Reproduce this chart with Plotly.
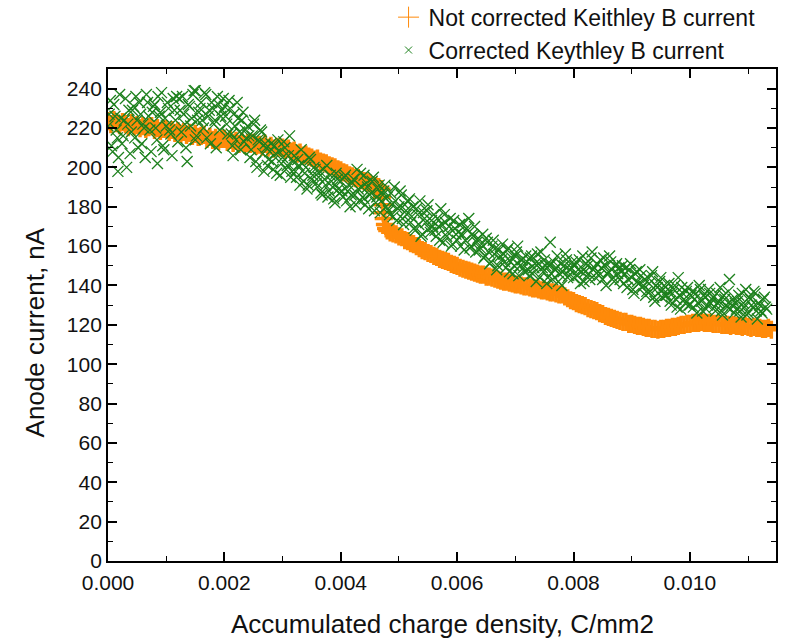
import plotly.graph_objects as go

# ---------------- data ----------------
# x values are given in units of 1e-5 C/mm2 and converted below
ORANGE_X_1E5 = [
    0, 5, 10, 15, 20, 25, 30, 35, 40, 45,
    50, 55, 60, 65, 70, 75, 80, 85, 90, 95,
    100, 105, 110, 115, 120, 125, 130, 135, 140, 145,
    150, 155, 160, 165, 170, 175, 180, 185, 190, 195,
    200, 205, 210, 215, 220, 225, 230, 235, 240, 245,
    250, 255, 260, 265, 270, 275, 280, 285, 290, 295,
    300, 305, 310, 315, 320, 325, 330, 335, 340, 345,
    350, 355, 360, 365, 370, 375, 380, 385, 390, 395,
    400, 405, 410, 415, 420, 425, 430, 435, 440, 445,
    450, 455, 460, 465, 470,
    471, 472, 473, 474, 476, 478,
    480, 485, 490, 495, 500, 505, 510, 515, 520, 525,
    530, 535, 540, 545, 550, 555, 560, 565, 570, 575,
    580, 585, 590, 595, 600, 605, 610, 615, 620, 625,
    630, 635, 640, 645, 650, 655, 660, 665, 670, 675,
    680, 685, 690, 695, 700, 705, 710, 715, 720, 725,
    730, 735, 740, 745, 750, 755, 760, 765, 770, 775,
    780, 785, 790, 795, 800, 805, 810, 815, 820, 825,
    830, 835, 840, 845, 850, 855, 860, 865, 870, 875,
    880, 885, 890, 895, 900, 905, 910, 915, 920, 925,
    930, 935, 940, 945, 950, 955, 960, 965, 970, 975,
    980, 985, 990, 995, 1000, 1005, 1010, 1015, 1020, 1025,
    1030, 1035, 1040, 1045, 1050, 1055, 1060, 1065, 1070, 1075,
    1080, 1085, 1090, 1095, 1100, 1105, 1110, 1115, 1120, 1125,
    1130, 1135, 1140,
]
ORANGE_Y = [
    223.5, 222.0, 224.0, 222.5, 221.5, 223.0, 222.0, 220.5, 222.5, 221.0,
    221.5, 220.0, 221.0, 219.5, 220.5, 221.0, 219.0, 220.0, 218.5, 219.5,
    219.5, 218.0, 219.0, 217.5, 218.5, 217.0, 218.0, 216.5, 217.5, 216.0,
    217.0, 215.5, 216.0, 216.5, 214.5, 215.5, 214.0, 215.0, 213.5, 214.5,
    214.5, 213.0, 214.0, 212.5, 213.5, 212.0, 213.0, 211.5, 212.5, 212.0,
    212.5, 211.0, 211.5, 210.5, 212.0, 210.0, 211.0, 209.5, 210.5, 210.0,
    210.0, 209.0, 209.5, 208.0, 208.5, 207.0, 207.5, 206.0, 206.5, 205.5,
    205.0, 204.0, 204.5, 203.0, 202.5, 202.0, 201.0, 200.5, 200.0, 199.0,
    198.5, 197.5, 197.0, 196.0, 195.5, 194.5, 194.5, 193.5, 193.0, 192.5,
    192.0, 191.0, 190.5, 190.0, 189.0,
    185.0, 181.0, 177.0, 174.0, 171.0, 169.0,
    168.0, 167.0, 166.5, 166.0, 165.0, 164.5, 163.0, 162.5, 161.5, 161.0,
    160.0, 159.0, 158.0, 157.5, 156.5, 156.0, 155.0, 154.5, 153.5, 153.0,
    152.5, 152.0, 151.0, 150.5, 150.0, 149.0, 148.5, 148.0, 147.5, 147.0,
    146.5, 146.0, 145.5, 145.5, 144.5, 144.5, 144.0, 143.5, 143.0, 142.5,
    142.0, 142.0, 141.5, 141.0, 140.5, 140.5, 140.0, 139.5, 139.5, 139.0,
    138.5, 138.5, 138.0, 137.5, 137.5, 137.0, 136.5, 136.5, 136.0, 135.5,
    135.5, 134.5, 133.5, 132.5, 132.0, 131.0, 130.5, 130.0, 129.5, 128.5,
    128.0, 127.5, 127.0, 126.0, 125.5, 124.5, 124.0, 123.5, 123.0, 122.5,
    122.0, 121.5, 121.5, 120.5, 120.5, 120.0, 119.5, 119.5, 119.0, 118.5,
    118.5, 118.0, 118.0, 117.5, 118.0, 118.0, 118.5, 118.5, 119.0, 119.0,
    119.5, 120.0, 120.0, 120.5, 120.5, 121.0, 121.0, 121.0, 121.5, 121.0,
    121.0, 121.0, 120.5, 120.5, 120.5, 120.0, 120.0, 120.0, 119.5, 120.0,
    119.5, 119.5, 119.0, 119.5, 119.0, 118.5, 119.0, 118.5, 118.5, 118.0,
    118.0, 118.5, 117.5,
]

GREEN_X_1E5 = [
    0, 4, 8, 12, 16, 20, 24, 28, 32, 36,
    40, 44, 48, 52, 56, 60, 64, 68, 72, 76,
    80, 84, 88, 92, 96, 100, 104, 108, 112, 116,
    120, 124, 128, 132, 136, 140, 144, 148, 152, 156,
    160, 164, 168, 172, 176, 180, 184, 188, 192, 196,
    200, 204, 208, 212, 216, 220, 224, 228, 232, 236,
    240, 244, 248, 252, 256, 260, 264, 268, 272, 276,
    280, 284, 288, 292, 296, 300, 304, 308, 312, 316,
    320, 324, 328, 332, 336, 340, 344, 348, 352, 356,
    360, 364, 368, 372, 376, 380, 384, 388, 392, 396,
    400, 404, 408, 412, 416, 420, 424, 428, 432, 436,
    440, 444, 448, 452, 456, 460, 464, 468, 472, 476,
    480, 484, 488, 492, 496, 500, 504, 508, 512, 516,
    520, 524, 528, 532, 536, 540, 544, 548, 552, 556,
    560, 564, 568, 572, 576, 580, 584, 588, 592, 596,
    600, 604, 608, 612, 616, 620, 624, 628, 632, 636,
    640, 644, 648, 652, 656, 660, 664, 668, 672, 676,
    680, 684, 688, 692, 696, 700, 704, 708, 712, 716,
    720, 724, 728, 732, 736, 740, 744, 748, 752, 756,
    760, 764, 768, 772, 776, 780, 784, 788, 792, 796,
    800, 804, 808, 812, 816, 820, 824, 828, 832, 836,
    840, 844, 848, 852, 856, 860, 864, 868, 872, 876,
    880, 884, 888, 892, 896, 900, 904, 908, 912, 916,
    920, 924, 928, 932, 936, 940, 944, 948, 952, 956,
    960, 964, 968, 972, 976, 980, 984, 988, 992, 996,
    1000, 1004, 1008, 1012, 1016, 1020, 1024, 1028, 1032, 1036,
    1040, 1044, 1048, 1052, 1056, 1060, 1064, 1068, 1072, 1076,
    1080, 1084, 1088, 1092, 1096, 1100, 1104, 1108, 1112, 1116,
    1120, 1124, 1128, 1132,
    17, 85, 150, 215, 440, 760,
]
GREEN_Y = [
    221, 234, 208, 226, 215, 237, 212, 224, 200, 229,
    218, 231, 236, 210, 227, 222, 205, 233, 219, 228,
    232, 214, 226, 238, 209, 221, 230, 217, 235, 224,
    213, 229, 236, 222, 203, 231, 225, 239, 216, 228,
    233, 220, 237, 226, 212, 230, 224, 236, 219, 229,
    231, 222, 234, 217, 227, 214, 225, 209, 228, 219,
    221, 205, 216, 224, 200, 213, 218, 198, 210, 204,
    212, 199, 207, 214, 196, 205, 210, 201, 216, 198,
    206, 195, 201, 209, 193, 200, 191, 204, 196, 199,
    190, 198, 186, 194, 201, 188, 193, 184, 197, 189,
    193, 185, 196, 188, 180, 192, 186, 199, 183, 190,
    184, 192, 179, 187, 195, 182, 189, 177, 186, 191,
    185, 176, 181, 190, 173, 180, 186, 171, 178, 183,
    172, 180, 168, 176, 183, 166, 174, 178, 169, 173,
    176, 165, 170, 179, 162, 172, 167, 174, 161, 169,
    163, 171, 166, 158, 169, 174, 160, 165, 157, 164,
    159, 166, 155, 162, 151, 160, 156, 148, 158, 153,
    156, 149, 159, 152, 146, 155, 160, 150, 153, 147,
    152, 145, 155, 149, 142, 151, 157, 147, 150, 144,
    151, 143, 148, 155, 146, 140, 150, 153, 145, 149,
    144, 152, 148, 141, 155, 147, 150, 143, 157, 149,
    151, 145, 149, 154, 140, 147, 152, 144, 150, 146,
    143, 150, 146, 139, 148, 144, 136, 147, 141, 145,
    140, 135, 144, 137, 147, 132, 139, 142, 134, 140,
    135, 141, 130, 138, 133, 144, 128, 136, 131, 139,
    130, 137, 133, 126, 140, 132, 135, 128, 138, 131,
    134, 127, 131, 139, 125, 133, 129, 143, 130, 126,
    128, 135, 124, 131, 138, 126, 133, 129, 136, 123,
    130, 126, 134, 128,
    198, 202, 239, 206, 196, 162,
]

# second pass of the corrected-current readings (interleaved samples)
GREEN_X_1E5_B = [
    2, 6, 10, 14, 18, 22, 26, 30, 34, 38,
    42, 46, 50, 54, 58, 62, 66, 70, 74, 78,
    82, 86, 90, 94, 98, 102, 106, 110, 114, 118,
    122, 126, 130, 134, 138, 142, 146, 150, 154, 158,
    162, 166, 170, 174, 178, 182, 186, 190, 194, 198,
    202, 206, 210, 214, 218, 222, 226, 230, 234, 238,
    242, 246, 250, 254, 258, 262, 266, 270, 274, 278,
    282, 286, 290, 294, 298, 302, 306, 310, 314, 318,
    322, 326, 330, 334, 338, 342, 346, 350, 354, 358,
    362, 366, 370, 374, 378, 382, 386, 390, 394, 398,
    402, 406, 410, 414, 418, 422, 426, 430, 434, 438,
    442, 446, 450, 454, 458, 462, 466, 470, 474, 478,
    482, 486, 490, 494, 498, 502, 506, 510, 514, 518,
    522, 526, 530, 534, 538, 542, 546, 550, 554, 558,
    562, 566, 570, 574, 578, 582, 586, 590, 594, 598,
    602, 606, 610, 614, 618, 622, 626, 630, 634, 638,
    642, 646, 650, 654, 658, 662, 666, 670, 674, 678,
    682, 686, 690, 694, 698, 702, 706, 710, 714, 718,
    722, 726, 730, 734, 738, 742, 746, 750, 754, 758,
    762, 766, 770, 774, 778, 782, 786, 790, 794, 798,
    802, 806, 810, 814, 818, 822, 826, 830, 834, 838,
    842, 846, 850, 854, 858, 862, 866, 870, 874, 878,
    882, 886, 890, 894, 898, 902, 906, 910, 914, 918,
    922, 926, 930, 934, 938, 942, 946, 950, 954, 958,
    962, 966, 970, 974, 978, 982, 986, 990, 994, 998,
    1002, 1006, 1010, 1014, 1018, 1022, 1026, 1030, 1034, 1038,
    1042, 1046, 1050, 1054, 1058, 1062, 1066, 1070, 1074, 1078,
    1082, 1086, 1090, 1094, 1098, 1102, 1106, 1110, 1114, 1118,
    1122, 1126, 1130,
]
GREEN_Y_B = [
    227, 211, 232, 219, 205, 225, 216, 235, 222, 207,
    229, 215, 224, 233, 212, 220, 237, 226, 208, 231,
    220, 236, 228, 211, 225, 233, 219, 206, 229, 236,
    235, 218, 227, 210, 232, 221, 237, 214, 224, 230,
    224, 238, 215, 229, 233, 222, 210, 232, 226, 235,
    226, 217, 230, 211, 221, 233, 218, 224, 213, 215,
    216, 209, 222, 203, 214, 219, 207, 212, 201, 208,
    203, 211, 197, 208, 202, 213, 199, 206, 195, 203,
    198, 204, 191, 202, 197, 189, 205, 194, 200, 192,
    195, 187, 199, 191, 185, 196, 190, 182, 194, 187,
    188, 195, 183, 191, 186, 194, 181, 189, 197, 185,
    181, 190, 186, 193, 178, 185, 191, 183, 188, 180,
    178, 187, 175, 183, 179, 188, 174, 181, 176, 184,
    175, 169, 179, 171, 165, 177, 172, 181, 167, 170,
    168, 174, 163, 171, 176, 165, 170, 160, 173, 166,
    167, 160, 172, 163, 168, 159, 166, 170, 162, 158,
    161, 154, 164, 157, 152, 163, 159, 150, 155, 161,
    152, 158, 147, 154, 150, 157, 145, 153, 149, 155,
    148, 154, 146, 151, 156, 144, 149, 153, 141, 150,
    146, 152, 149, 142, 151, 147, 156, 144, 148, 152,
    150, 145, 153, 147, 142, 151, 146, 154, 148, 144,
    147, 153, 143, 150, 146, 155, 148, 142, 151, 149,
    147, 141, 149, 143, 151, 138, 146, 142, 148, 139,
    143, 137, 141, 145, 134, 140, 136, 144, 138, 135,
    138, 132, 136, 140, 129, 135, 139, 133, 137, 130,
    135, 129, 136, 131, 138, 127, 134, 130, 136, 133,
    129, 136, 132, 127, 135, 130, 137, 128, 133, 131,
    132, 127, 136, 129, 125, 134, 130, 137, 127, 131,
    127, 133, 129,
]

X_TICKS = [0.000, 0.002, 0.004, 0.006, 0.008, 0.010]
X_TICK_LABELS = ["0.000", "0.002", "0.004", "0.006", "0.008", "0.010"]
Y_TICKS = [0, 20, 40, 60, 80, 100, 120, 140, 160, 180, 200, 220, 240]

NAME_ORANGE = "Not corrected Keithley B current"
NAME_GREEN = "Corrected Keythley B current"
X_TITLE = "Accumulated charge density, C/mm2"
Y_TITLE = "Anode current, nA"

# unit conversion 1e-5 C/mm2 -> C/mm2
ox = [v * 1e-5 for v in ORANGE_X_1E5]
gx = [v * 1e-5 for v in GREEN_X_1E5 + GREEN_X_1E5_B]
gy = GREEN_Y + GREEN_Y_B

ORANGE = "#ff8a0a"
GREEN = "#1d811d"
FONT = "Liberation Sans, Arial, sans-serif"

fig = go.Figure()

fig.add_trace(go.Scatter(
    x=ox, y=ORANGE_Y, mode="markers", showlegend=False, name=NAME_ORANGE,
    marker=dict(symbol="cross-thin", size=13, color=ORANGE,
                line=dict(color=ORANGE, width=3.5)),
))
fig.add_trace(go.Scatter(
    x=gx, y=gy, mode="markers", showlegend=False, name=NAME_GREEN,
    marker=dict(symbol="x-thin", size=11, color=GREEN,
                line=dict(color=GREEN, width=1.3)),
))
# legend entries
fig.add_trace(go.Scatter(
    x=[None], y=[None], mode="markers", name=NAME_ORANGE,
    marker=dict(symbol="cross-thin", size=15, color=ORANGE,
                line=dict(color=ORANGE, width=1)),
))
fig.add_trace(go.Scatter(
    x=[None], y=[None], mode="markers", name=NAME_GREEN,
    marker=dict(symbol="x-thin", size=7, color=GREEN,
                line=dict(color=GREEN, width=1)),
))

axis_common = dict(
    showline=True, linecolor="black", linewidth=1.8, mirror="allticks",
    ticks="inside", ticklen=9, tickwidth=1.6, tickcolor="black",
    showgrid=False, zeroline=False,
    tickfont=dict(family=FONT, size=21, color="#111"),
)

fig.update_layout(
    width=792, height=641,
    margin=dict(l=108, r=16, t=69, b=80, autoexpand=False),
    paper_bgcolor="white", plot_bgcolor="white",
    font=dict(family=FONT, color="#111"),
    xaxis=dict(
        range=[0, 0.01148], tickvals=X_TICKS, ticktext=X_TICK_LABELS,
        minor=dict(dtick=0.001, ticks="inside", ticklen=5, tickwidth=1.4, tickcolor="black"),
        ticklabelstandoff=2,
        **axis_common,
    ),
    yaxis=dict(
        range=[0, 250], tickvals=Y_TICKS,
        minor=dict(dtick=10, ticks="inside", ticklen=5, tickwidth=1.4, tickcolor="black"),
        **axis_common,
    ),
    legend=dict(
        x=0.42, y=1.149, xanchor="left", yanchor="top",
        bgcolor="rgba(0,0,0,0)", font=dict(family=FONT, size=23, color="#111"),
        tracegroupgap=0, itemsizing="trace",
    ),
    showlegend=True,
    annotations=[
        dict(text=X_TITLE, xref="paper", yref="paper", x=0.5, y=-0.128,
             xanchor="center", yanchor="middle", showarrow=False,
             font=dict(family=FONT, size=26, color="#111")),
        dict(text=Y_TITLE, xref="paper", yref="paper", x=-0.109, y=0.465,
             xanchor="center", yanchor="middle", showarrow=False, textangle=-90,
             font=dict(family=FONT, size=26, color="#111")),
    ],
)

fig.write_html("out.html")
